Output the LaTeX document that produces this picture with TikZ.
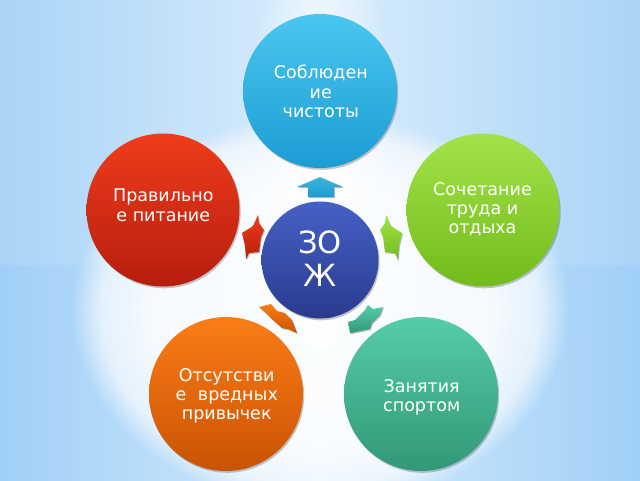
\documentclass[tikz,border=0pt]{standalone}
\usepackage{fontspec}
\setmainfont{DejaVu Sans}
\usetikzlibrary{fadings}
\definecolor{bgblue}{RGB}{160,208,247}
\definecolor{bgmid}{RGB}{214,235,252}
\definecolor{ctopA}{HTML}{4AC6EF}\definecolor{ctopB}{HTML}{1C9DD3}
\definecolor{credA}{HTML}{F03C1C}\definecolor{credB}{HTML}{B51D0D}
\definecolor{cgrnA}{HTML}{A3E34A}\definecolor{cgrnB}{HTML}{72BB1A}
\definecolor{corgA}{HTML}{FC7D16}\definecolor{corgB}{HTML}{C95305}
\definecolor{ctelA}{HTML}{55CCA8}\definecolor{ctelB}{HTML}{329877}
\definecolor{ccenA}{HTML}{4560C6}\definecolor{ccenB}{HTML}{2A3B8E}
\pgfdeclareradialshading{myglowsh}{\pgfpointorigin}{color(0bp)=(pgftransparent!0); color(17bp)=(pgftransparent!5); color(22bp)=(pgftransparent!30); color(25bp)=(pgftransparent!100); color(50bp)=(pgftransparent!100)}
\pgfdeclarefading{myglow}{\pgfuseshading{myglowsh}}
\pgfdeclareradialshading{softglowsh}{\pgfpointorigin}{color(0bp)=(pgftransparent!0); color(10bp)=(pgftransparent!20); color(25bp)=(pgftransparent!100); color(50bp)=(pgftransparent!100)}
\pgfdeclarefading{softglow}{\pgfuseshading{softglowsh}}
\tikzset{
  ball/.style={circle, inner sep=0pt, draw=none, shading=axis,
    preaction={fill=black, opacity=0.22, transform canvas={shift={(1.2pt,-1.8pt)}}}},
  lbl/.style={align=center, inner sep=0pt, text=white, anchor=north,
    font=\fontsize{17.5}{19.3}\selectfont},
  blk/.style={shading=axis, draw=none,
    preaction={fill=black, opacity=0.25, transform canvas={shift={(0.8pt,-1.2pt)}}}}
}
\begin{document}
\begin{tikzpicture}[x=1pt,y=-1pt]
\useasboundingbox (0,0) rectangle (640,480);
% background
\shade[left color=bgblue, right color=bgblue, middle color=bgmid] (0,0) rectangle (640,480);
\fill[white, opacity=0.10] (0,0) rectangle (640,265);
\fill[white, opacity=0.92, path fading=myglow] (320,310) ellipse (248 and 197);
\fill[white, opacity=0.6, path fading=softglow] (320,110) ellipse (70 and 250);
% circles
\node[ball, minimum size=154pt, top color=ctopA, bottom color=ctopB] (c1) at (320,91) {};
\node[ball, minimum size=153pt, top color=credA, bottom color=credB] (c2) at (163,210) {};
\node[ball, minimum size=153pt, top color=cgrnA, bottom color=cgrnB] (c3) at (483,210) {};
\node[ball, minimum size=154pt, top color=corgA, bottom color=corgB] (c4) at (226,394) {};
\node[ball, minimum size=154pt, top color=ctelA, bottom color=ctelB] (c5) at (421,394) {};
\node[ball, minimum size=117pt, top color=ccenA, bottom color=ccenB] (c0) at (320,260) {};
% arrows
\shade[blk, top color=ctopA!90!black, bottom color=ctopB] (297,187) -- (320,177) -- (343,187) -- (334,187) -- (334,197) -- (308,197) -- (308,187) -- cycle;
\shade[blk, top color=credA, bottom color=credB] (258,215) -- (253,226) -- (242,233) -- (245,246) -- (246,259) -- (249,253) -- (259,252) -- (261,237) -- (264,230) -- (259,223) -- cycle;
\shade[blk, top color=cgrnA, bottom color=cgrnB] (386,215) -- (391,226) -- (402,233) -- (399,246) -- (398,260) -- (395,253) -- (385,252) -- (383,237) -- (380,230) -- (385,223) -- cycle;
\shade[blk, top color=corgA, bottom color=corgB] (259,307) -- (271,304) -- (277,311) -- (285,313) -- (292,320) -- (297,333) -- (288,329) -- (282,328) -- (273,320) -- (266,313) -- cycle;
\shade[blk, top color=ctelA, bottom color=ctelB] (383,307) -- (380,315) -- (372,323) -- (370,329) -- (350,333) -- (348,322) -- (355,320) -- (365,310) -- (368,305) -- (373,309) -- cycle;
% texts
\node[lbl] (t1) at (320.8,64.7) {\rule{0pt}{14pt}Соблюден\\ие\\чистоты};
\node[lbl] (t2) at (163.3,187.7) {\rule{0pt}{14pt}Правильно\\е питание};
\node[lbl] (t3) at (482.5,181) {\rule{0pt}{14pt}Сочетание\\труда и\\отдыха};
\node[lbl] (t4) at (226.7,367) {\rule{0pt}{14pt}Отсутстви\\е\hspace{0.35em} вредных\\привычек};
\node[lbl] (t5) at (421.7,378.3) {\rule{0pt}{14pt}Занятия\\спортом};
\node[lbl, font=\fontsize{30.6}{33.4}\selectfont] (t0) at (320,229.3) {\rule{0pt}{24pt}ЗО\\Ж};
\end{tikzpicture}
\end{document}
